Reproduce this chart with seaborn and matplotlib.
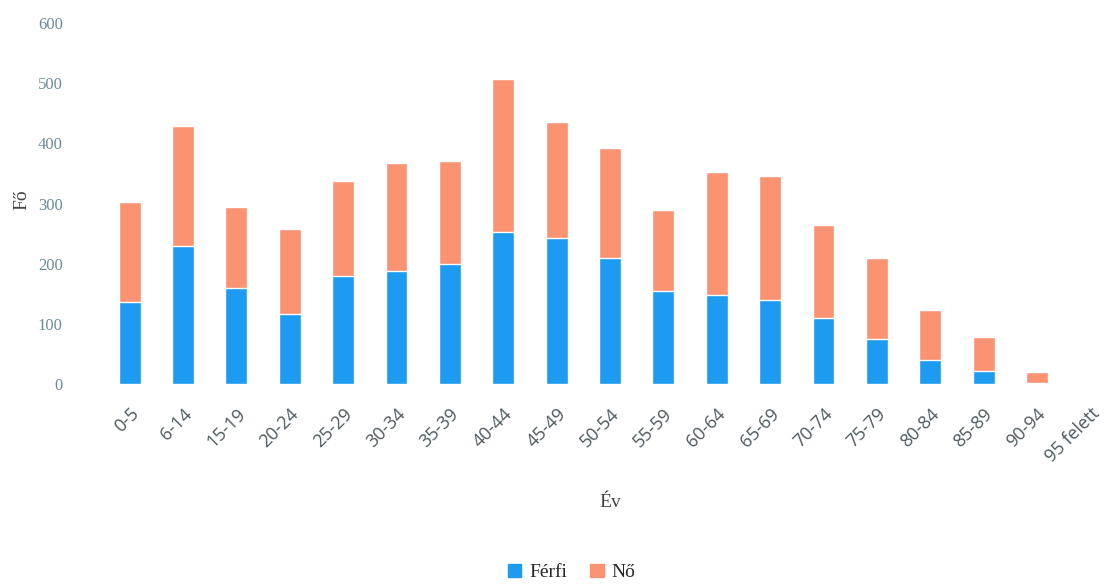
import matplotlib

matplotlib.use("Agg")

import matplotlib.pyplot as plt
from matplotlib.patches import Patch
import seaborn as sns

age_groups = ["0-5", "6-14", "15-19", "20-24", "25-29", "30-34", "35-39", "40-44", "45-49",
              "50-54", "55-59", "60-64", "65-69", "70-74", "75-79", "80-84", "85-89", "90-94",
              "95 felett"]
ferfi = [137, 230, 160, 117, 180, 188, 200, 252, 242, 210, 155, 148, 140, 110, 75, 40, 22, 2, 0]
no = [165, 198, 135, 140, 157, 179, 170, 255, 193, 183, 135, 205, 205, 155, 135, 83, 56, 18, 0]
totals = [m + f for m, f in zip(ferfi, no)]

BLUE = "#1c9bf0"
ORANGE = "#fb9272"
YTEXT = "#6a8c98"
XTEXT = "#4e5a5f"

sns.set_theme(style="white")

fig = plt.figure(figsize=(11.1, 5.84), dpi=100)
ax = fig.add_axes([103 / 1110, 1 - 384 / 584, 1014 / 1110, 361 / 584])

# stacked bars: total (Nő on top) drawn first, Férfi over it
sns.barplot(x=age_groups, y=totals, color=ORANGE, saturation=1, width=0.41, ax=ax)
sns.barplot(x=age_groups, y=ferfi, color=BLUE, saturation=1, width=0.41, ax=ax)

ax.set_ylim(0, 600)
ax.set_yticks(range(0, 601, 100))
ax.set_yticklabels([str(v) for v in range(0, 601, 100)], family="Liberation Serif",
                   fontsize=12, color=YTEXT)
ax.tick_params(axis="y", length=0, pad=29)
ax.tick_params(axis="x", length=0, pad=15)
ax.set_xticks(range(len(age_groups)))
ax.set_xticklabels(age_groups, rotation=45, ha="right", rotation_mode="anchor",
                   family="Open Sans", fontsize=13, color=XTEXT)
sns.despine(ax=ax, left=True, bottom=True)

ax.set_xlabel("Év", family="Liberation Serif", fontsize=14, color="#444444")
ax.xaxis.set_label_coords(0.5, -0.305)
ax.set_ylabel("Fő", family="Liberation Serif", fontsize=14, color="#444444")
ax.yaxis.set_label_coords(-0.072, 0.51)

handles = [Patch(color=BLUE, label="Férfi"), Patch(color=ORANGE, label="Nő")]
fig.legend(handles=handles, loc="center", bbox_to_anchor=(0.515, 0.02), ncol=2, frameon=False,
           handlelength=0.7, handleheight=0.7, handletextpad=0.4, columnspacing=1.2,
           prop={"family": "Liberation Serif", "size": 14})

fig.savefig("out.png", dpi=100)
